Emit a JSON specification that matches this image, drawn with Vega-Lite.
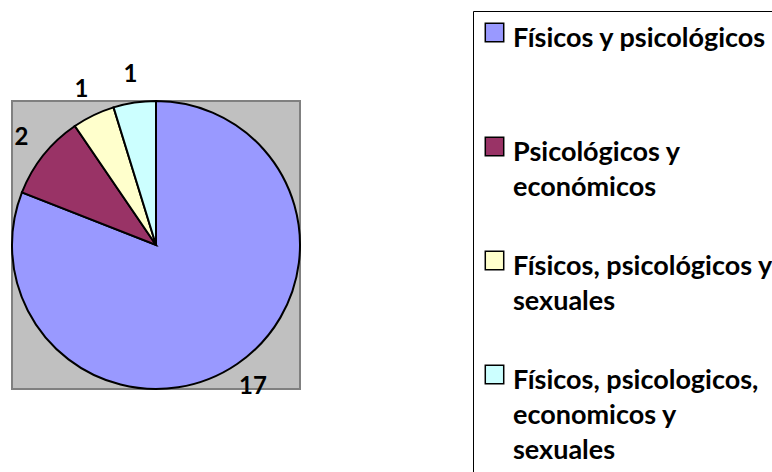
{
  "$schema": "https://vega.github.io/schema/vega-lite/v6.json",
  "width": 288,
  "height": 288,
  "autosize": {"type": "none"},
  "padding": {"left": 12, "top": 101, "right": 472, "bottom": 83},
  "background": "white",
  "view": {"fill": "#C0C0C0", "stroke": "#808080", "strokeWidth": 2},
  "config": {"style": {"guide-label": {"lineHeight": 35, "dy": -7}}},
  "data": {
    "values": [
      {"tipo": "Físicos y psicológicos", "casos": 17, "orden": 1},
      {"tipo": "Psicológicos y económicos", "casos": 2, "orden": 2},
      {"tipo": "Físicos, psicológicos y sexuales", "casos": 1, "orden": 3},
      {"tipo": "Físicos, psicologicos, economicos y sexuales", "casos": 1, "orden": 4}
    ]
  },
  "encoding": {
    "theta": {"field": "casos", "type": "quantitative", "stack": true},
    "order": {"field": "orden", "type": "quantitative"}
  },
  "layer": [
    {
      "mark": {"type": "arc", "outerRadius": 144, "stroke": "black", "strokeWidth": 2},
      "encoding": {
        "color": {
          "field": "tipo",
          "type": "nominal",
          "sort": ["Físicos y psicológicos", "Psicológicos y económicos", "Físicos, psicológicos y sexuales", "Físicos, psicologicos, economicos y sexuales"],
          "scale": {
            "domain": ["Físicos y psicológicos", "Psicológicos y económicos", "Físicos, psicológicos y sexuales", "Físicos, psicologicos, economicos y sexuales"],
            "range": ["#9999FF", "#993366", "#FFFFCC", "#CCFFFF"]
          },
          "legend": {
            "title": null,
            "orient": "none",
            "legendX": 461,
            "legendY": -90,
            "strokeColor": "black",
            "fillColor": "white",
            "padding": 8,
            "symbolType": "square",
            "symbolSize": 340,
            "symbolStrokeColor": "black",
            "symbolStrokeWidth": 1.5,
            "symbolOpacity": 1,
            "labelFont": "Lato",
            "labelFontWeight": "bold",
            "labelFontSize": 27,
            "labelColor": "black",
            "labelLimit": 400,
            "labelOffset": 5,
            "labelBaseline": "top",
            "rowPadding": 11,
            "labelExpr": "datum.label == 'Físicos y psicológicos' ? ['Físicos y psicológicos', '', ''] : datum.label == 'Psicológicos y económicos' ? ['Psicológicos y', 'económicos', ''] : datum.label == 'Físicos, psicológicos y sexuales' ? ['Físicos, psicológicos y', 'sexuales', ''] : datum.label == 'Físicos, psicologicos, economicos y sexuales' ? ['Físicos, psicologicos,', 'economicos y', 'sexuales'] : datum.label"
          }
        }
      }
    },
    {
      "mark": {"type": "text", "radius": 172, "font": "Lato", "fontWeight": "bold", "fontSize": 24, "color": "black"},
      "encoding": {"text": {"field": "casos", "type": "quantitative"}}
    }
  ]
}
